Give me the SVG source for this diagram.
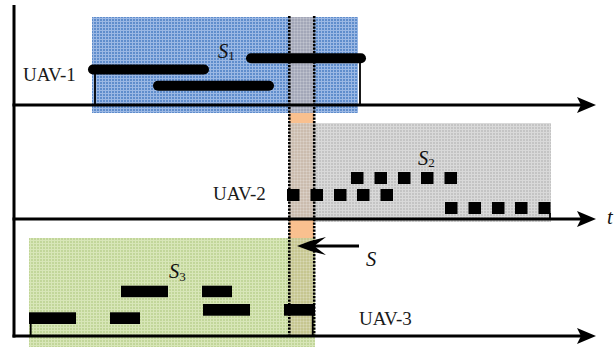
<svg xmlns="http://www.w3.org/2000/svg" width="616" height="348" viewBox="0 0 616 348">
  <style>
    .lbl { font-family: "Liberation Serif", "Times New Roman", serif; font-size: 19px; fill: #1a1a1a; }
    .sym { font-family: "Liberation Serif", "Times New Roman", serif; font-size: 20.5px; font-style: italic; fill: #111; }
    .sub { font-size: 13px; font-style: normal; }
    .axis { stroke: #000; stroke-width: 3; fill: none; }
    .tick { stroke: #000; stroke-width: 1.8; fill: none; }
    .bar { stroke: #000; stroke-width: 10; stroke-linecap: round; fill: none; }
    .blk { fill: #000; }
    .dot { stroke: #000; stroke-width: 2.6; stroke-dasharray: 2.2 1.3; fill: none; }
  </style>
  <defs>
    <pattern id="pBlue" width="3" height="3" patternUnits="userSpaceOnUse">
      <rect width="3" height="3" fill="#5f8dcc"/>
      <path d="M0 0.5H3M0.5 0V3" stroke="#9bb8e4" stroke-width="1"/>
    </pattern>
    <pattern id="pGray" width="3" height="3" patternUnits="userSpaceOnUse">
      <rect width="3" height="3" fill="#c4c4c4"/>
      <path d="M0 0.5H3M0.5 0V3" stroke="#d9d9d9" stroke-width="1"/>
    </pattern>
    <pattern id="pGreen" width="3" height="3" patternUnits="userSpaceOnUse">
      <rect width="3" height="3" fill="#c2d69a"/>
      <path d="M0 0.5H3M0.5 0V3" stroke="#d8e6b8" stroke-width="1"/>
    </pattern>
    <pattern id="pTex" width="3" height="3" patternUnits="userSpaceOnUse">
      <path d="M0 0.5H3M0.5 0V3" stroke="#ffffff" stroke-opacity="0.18" stroke-width="1"/>
    </pattern>
  </defs>

  <!-- shaded regions -->
  <g id="region-s1"><rect x="92" y="17" width="266" height="96" fill="url(#pBlue)"/></g>
  <g id="region-s2"><rect x="289" y="123" width="262" height="99" fill="url(#pGray)"/></g>
  <g id="region-s3"><rect x="29" y="238" width="286" height="109" fill="url(#pGreen)"/></g>

  <!-- overlap strip -->
  <g id="strip">
    <rect x="289" y="17" width="25" height="96" fill="#a3a7b8"/>
    <rect x="289" y="113" width="25" height="10" fill="#f9c08f"/>
    <rect x="289" y="123" width="25" height="96" fill="#cbbcae"/>
    <rect x="289" y="219" width="25" height="19" fill="#f9c08f"/>
    <rect x="289" y="238" width="25" height="98" fill="#c6c690"/>
    <rect x="289" y="17" width="25" height="96" fill="url(#pTex)"/>
    <rect x="289" y="123" width="25" height="96" fill="url(#pTex)"/>
    <rect x="289" y="238" width="25" height="98" fill="url(#pTex)"/>
  </g>

  <!-- connectors: axes and arrows -->
  <g id="connectors">
    <line class="axis" x1="14" y1="5" x2="14" y2="337.5"/>
    <line class="axis" x1="12.5" y1="105" x2="582" y2="105"/>
    <path class="blk" d="M596 105 L577 97 L581 105 L577 113 Z"/>
    <line class="axis" x1="12.5" y1="219" x2="582" y2="219"/>
    <path class="blk" d="M596 219 L577 211 L581 219 L577 227 Z"/>
    <line class="axis" x1="12.5" y1="336" x2="582" y2="336"/>
    <path class="blk" d="M596 336 L577 328 L581 336 L577 344 Z"/>
    <line class="axis" x1="312" y1="246" x2="359" y2="246"/>
    <path class="blk" d="M297 246 Q311 240 326 237 L314 246 L326 255 Q311 252 297 246 Z"/>
  </g>

  <!-- UAV-1 -->
  <g id="uav1">
    <line class="tick" x1="95" y1="69" x2="95" y2="105"/>
    <line class="tick" x1="360" y1="58" x2="360" y2="105"/>
    <line class="bar" x1="93" y1="69.5" x2="204" y2="69.5"/>
    <line class="bar" x1="158" y1="85.8" x2="269" y2="85.8"/>
    <line class="bar" x1="251" y1="58.3" x2="361" y2="58.3"/>
    <text class="lbl" x="23" y="81">UAV-1</text>
    <text class="sym" x="218" y="57.5">S<tspan class="sub" dy="2">1</tspan></text>
  </g>

  <!-- UAV-2 -->
  <g id="uav2">
    <g class="blk">
      <rect x="287" y="189" width="12.5" height="12"/>
      <rect x="310.5" y="189" width="12.5" height="12"/>
      <rect x="334" y="189" width="12.5" height="12"/>
      <rect x="357" y="189" width="12.5" height="12"/>
      <rect x="380.5" y="189" width="12.5" height="12"/>
      <rect x="351" y="172" width="12.5" height="12"/>
      <rect x="374.5" y="172" width="12.5" height="12"/>
      <rect x="398" y="172" width="12.5" height="12"/>
      <rect x="421" y="172" width="12.5" height="12"/>
      <rect x="444.5" y="172" width="12.5" height="12"/>
      <rect x="445" y="202" width="12.5" height="12"/>
      <rect x="468.5" y="202" width="12.5" height="12"/>
      <rect x="492" y="202" width="12.5" height="12"/>
      <rect x="515" y="202" width="12.5" height="12"/>
      <rect x="538.5" y="202" width="12" height="12"/>
    </g>
    <line class="tick" x1="550" y1="213" x2="550" y2="219"/>
    <text class="lbl" x="213" y="200">UAV-2</text>
    <text class="sym" x="418" y="165">S<tspan class="sub" dy="2">2</tspan></text>
  </g>

  <!-- UAV-3 -->
  <g id="uav3">
    <line class="tick" x1="30.7" y1="323" x2="30.7" y2="336"/>
    <line class="tick" x1="312.7" y1="315" x2="312.7" y2="336"/>
    <g class="blk">
      <rect x="29" y="312.3" width="47" height="11.7"/>
      <rect x="110" y="312.3" width="30" height="11.7"/>
      <rect x="121" y="285.7" width="47" height="11.5"/>
      <rect x="202" y="285.7" width="30" height="11.5"/>
      <rect x="203" y="304" width="47" height="11.7"/>
      <rect x="284" y="304" width="31" height="11.7"/>
    </g>
    <text class="lbl" x="359" y="325">UAV-3</text>
    <text class="sym" x="169" y="278">S<tspan class="sub" dy="3">3</tspan></text>
  </g>

  <!-- dotted boundaries -->
  <g id="boundaries">
    <line class="dot" x1="289.3" y1="16" x2="289.3" y2="336"/>
    <line class="dot" x1="314.2" y1="16" x2="314.2" y2="336"/>
  </g>

  <!-- other labels -->
  <g id="labels">
    <text class="sym" x="607" y="224">t</text>
    <text class="sym" x="366" y="265.5">S</text>
  </g>
</svg>
